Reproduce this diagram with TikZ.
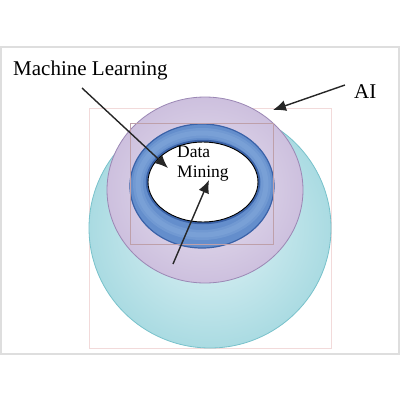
\documentclass[tikz,border=0pt]{standalone}
\usepackage{fontspec}
\setmainfont{Liberation Serif}
\usetikzlibrary{shapes.geometric,arrows.meta,positioning}

\definecolor{aiedge}{RGB}{120,194,203}
\definecolor{aimid}{RGB}{170,219,226}
\definecolor{ailight}{RGB}{226,243,246}
\definecolor{mledge}{RGB}{155,135,180}
\definecolor{mlmid}{RGB}{205,192,222}
\definecolor{mllight}{RGB}{232,226,240}
\definecolor{ringedge}{RGB}{58,98,168}
\definecolor{ringmid}{RGB}{100,142,204}
\definecolor{ringlight}{RGB}{138,174,222}
\definecolor{guidepink}{RGB}{242,218,218}
\definecolor{guidemauve}{RGB}{190,160,170}
\definecolor{framegray}{RGB}{222,222,222}

\begin{document}
\begin{tikzpicture}[
    x=1pt, y=-1pt,
    region/.style={ellipse, inner sep=0pt},
    caption/.style={inner sep=0pt, font=\fontsize{21}{25}\selectfont},
    inner/.style={inner sep=0pt, align=left, font=\fontsize{17.5}{20}\selectfont},
    arrow/.style={-{Latex[length=13pt,width=11pt]}, line width=1.4pt, black!85},
    guide/.style={line width=0.5pt}
]
\useasboundingbox (0,0) rectangle (400,400);

% Frame
\draw[framegray, line width=1.5pt] (1,47) rectangle (399,354);

% Regions (outer to inner)
\draw[guide, guidepink] (89,108) rectangle (331,348);
\node[region, minimum width=242pt, minimum height=240pt, draw=aiedge, line width=0.8pt,
      inner color=ailight, outer color=aimid] (ai) at (210,228) {};
\node[region, minimum width=196pt, minimum height=186pt, draw=mledge, line width=0.8pt,
      inner color=mllight, outer color=mlmid] (ml) at (205,190) {};
\node[region, minimum width=144pt, minimum height=124pt, draw=ringedge, line width=1.2pt,
      fill=ringmid] (ring) at (202,186) {};
\node[region, minimum width=128pt, minimum height=102pt, draw=ringlight, line width=10pt,
      opacity=0.35] (band) at (202,184) {};
\node[region, minimum width=128pt, minimum height=102pt, draw=ringlight, line width=5pt,
      opacity=0.35] (band-core) at (202,184) {};
\node[region, minimum width=112pt, minimum height=82pt, draw=ringedge, line width=2.5pt] (halo) at (203,182) {};
\node[region, minimum width=110pt, minimum height=80pt, draw=black, line width=0.9pt,
      fill=white] (dm) at (203,182) {};
\draw[guide, guidemauve] (130,123) rectangle (273,244);

% Labels
\node[caption, anchor=base west] (ml-text) at (13,75) {Machine Learning};
\node[caption, anchor=base west] (ai-text) at (354,98) {AI};
\node[inner, anchor=base west] (dm-text) at (177,177) {Data\\Mining};

% Arrow ends
\coordinate (ml-start) at (82,88);
\coordinate (ml-tip) at (168,168);
\coordinate (ai-start) at (345,85);
\coordinate (ai-tip) at (273,110);
\coordinate (dm-start) at (173,264);
\coordinate (dm-tip) at (209,180);

% Pointers
\draw[arrow] (ml-start) -- (ml-tip);
\draw[arrow] (ai-start) -- (ai-tip);
\draw[arrow] (dm-start) -- (dm-tip);

\end{tikzpicture}
\end{document}
